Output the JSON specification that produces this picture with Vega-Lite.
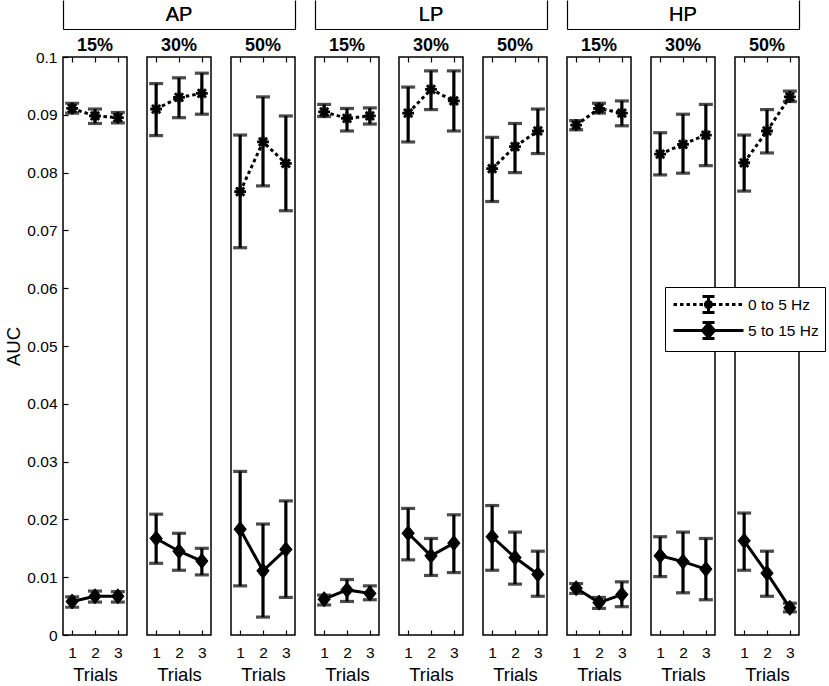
{
  "$schema": "https://vega.github.io/schema/vega-lite/v6.json",
  "padding": {"left": 4, "top": 0, "right": 5, "bottom": 2},
  "background": "white",
  "datasets": {
    "auc": [
      {"panel": "AP 15%", "trial": 1, "band": "0 to 5 Hz", "auc": 0.0911, "lo": 0.0903, "hi": 0.0920},
      {"panel": "AP 15%", "trial": 2, "band": "0 to 5 Hz", "auc": 0.0898, "lo": 0.0885, "hi": 0.0910},
      {"panel": "AP 15%", "trial": 3, "band": "0 to 5 Hz", "auc": 0.0895, "lo": 0.0886, "hi": 0.0904},
      {"panel": "AP 15%", "trial": 1, "band": "5 to 15 Hz", "auc": 0.0058, "lo": 0.0048, "hi": 0.0066},
      {"panel": "AP 15%", "trial": 2, "band": "5 to 15 Hz", "auc": 0.0067, "lo": 0.0057, "hi": 0.0076},
      {"panel": "AP 15%", "trial": 3, "band": "5 to 15 Hz", "auc": 0.0067, "lo": 0.0057, "hi": 0.0075},
      {"panel": "AP 30%", "trial": 1, "band": "0 to 5 Hz", "auc": 0.0910, "lo": 0.0864, "hi": 0.0954},
      {"panel": "AP 30%", "trial": 2, "band": "0 to 5 Hz", "auc": 0.0930, "lo": 0.0895, "hi": 0.0964},
      {"panel": "AP 30%", "trial": 3, "band": "0 to 5 Hz", "auc": 0.0937, "lo": 0.0901, "hi": 0.0972},
      {"panel": "AP 30%", "trial": 1, "band": "5 to 15 Hz", "auc": 0.0167, "lo": 0.0124, "hi": 0.0209},
      {"panel": "AP 30%", "trial": 2, "band": "5 to 15 Hz", "auc": 0.0145, "lo": 0.0112, "hi": 0.0176},
      {"panel": "AP 30%", "trial": 3, "band": "5 to 15 Hz", "auc": 0.0128, "lo": 0.0104, "hi": 0.0150},
      {"panel": "AP 50%", "trial": 1, "band": "0 to 5 Hz", "auc": 0.0767, "lo": 0.0670, "hi": 0.0865},
      {"panel": "AP 50%", "trial": 2, "band": "0 to 5 Hz", "auc": 0.0853, "lo": 0.0777, "hi": 0.0931},
      {"panel": "AP 50%", "trial": 3, "band": "0 to 5 Hz", "auc": 0.0816, "lo": 0.0734, "hi": 0.0898},
      {"panel": "AP 50%", "trial": 1, "band": "5 to 15 Hz", "auc": 0.0183, "lo": 0.0085, "hi": 0.0283},
      {"panel": "AP 50%", "trial": 2, "band": "5 to 15 Hz", "auc": 0.0111, "lo": 0.0031, "hi": 0.0192},
      {"panel": "AP 50%", "trial": 3, "band": "5 to 15 Hz", "auc": 0.0148, "lo": 0.0065, "hi": 0.0232},
      {"panel": "LP 15%", "trial": 1, "band": "0 to 5 Hz", "auc": 0.0905, "lo": 0.0897, "hi": 0.0918},
      {"panel": "LP 15%", "trial": 2, "band": "0 to 5 Hz", "auc": 0.0894, "lo": 0.0872, "hi": 0.0911},
      {"panel": "LP 15%", "trial": 3, "band": "0 to 5 Hz", "auc": 0.0898, "lo": 0.0884, "hi": 0.0912},
      {"panel": "LP 15%", "trial": 1, "band": "5 to 15 Hz", "auc": 0.0062, "lo": 0.0052, "hi": 0.0069},
      {"panel": "LP 15%", "trial": 2, "band": "5 to 15 Hz", "auc": 0.0078, "lo": 0.0058, "hi": 0.0096},
      {"panel": "LP 15%", "trial": 3, "band": "5 to 15 Hz", "auc": 0.0072, "lo": 0.0061, "hi": 0.0085},
      {"panel": "LP 30%", "trial": 1, "band": "0 to 5 Hz", "auc": 0.0903, "lo": 0.0853, "hi": 0.0948},
      {"panel": "LP 30%", "trial": 2, "band": "0 to 5 Hz", "auc": 0.0944, "lo": 0.0909, "hi": 0.0976},
      {"panel": "LP 30%", "trial": 3, "band": "0 to 5 Hz", "auc": 0.0924, "lo": 0.0872, "hi": 0.0976},
      {"panel": "LP 30%", "trial": 1, "band": "5 to 15 Hz", "auc": 0.0176, "lo": 0.0130, "hi": 0.0219},
      {"panel": "LP 30%", "trial": 2, "band": "5 to 15 Hz", "auc": 0.0137, "lo": 0.0103, "hi": 0.0167},
      {"panel": "LP 30%", "trial": 3, "band": "5 to 15 Hz", "auc": 0.0159, "lo": 0.0108, "hi": 0.0208},
      {"panel": "LP 50%", "trial": 1, "band": "0 to 5 Hz", "auc": 0.0807, "lo": 0.0750, "hi": 0.0861},
      {"panel": "LP 50%", "trial": 2, "band": "0 to 5 Hz", "auc": 0.0845, "lo": 0.0800, "hi": 0.0885},
      {"panel": "LP 50%", "trial": 3, "band": "0 to 5 Hz", "auc": 0.0872, "lo": 0.0833, "hi": 0.0910},
      {"panel": "LP 50%", "trial": 1, "band": "5 to 15 Hz", "auc": 0.0170, "lo": 0.0112, "hi": 0.0224},
      {"panel": "LP 50%", "trial": 2, "band": "5 to 15 Hz", "auc": 0.0134, "lo": 0.0088, "hi": 0.0178},
      {"panel": "LP 50%", "trial": 3, "band": "5 to 15 Hz", "auc": 0.0105, "lo": 0.0067, "hi": 0.0145},
      {"panel": "HP 15%", "trial": 1, "band": "0 to 5 Hz", "auc": 0.0882, "lo": 0.0874, "hi": 0.0890},
      {"panel": "HP 15%", "trial": 2, "band": "0 to 5 Hz", "auc": 0.0911, "lo": 0.0903, "hi": 0.0920},
      {"panel": "HP 15%", "trial": 3, "band": "0 to 5 Hz", "auc": 0.0903, "lo": 0.0881, "hi": 0.0924},
      {"panel": "HP 15%", "trial": 1, "band": "5 to 15 Hz", "auc": 0.0081, "lo": 0.0072, "hi": 0.0089},
      {"panel": "HP 15%", "trial": 2, "band": "5 to 15 Hz", "auc": 0.0056, "lo": 0.0046, "hi": 0.0065},
      {"panel": "HP 15%", "trial": 3, "band": "5 to 15 Hz", "auc": 0.0070, "lo": 0.0049, "hi": 0.0092},
      {"panel": "HP 30%", "trial": 1, "band": "0 to 5 Hz", "auc": 0.0832, "lo": 0.0796, "hi": 0.0869},
      {"panel": "HP 30%", "trial": 2, "band": "0 to 5 Hz", "auc": 0.0849, "lo": 0.0799, "hi": 0.0901},
      {"panel": "HP 30%", "trial": 3, "band": "0 to 5 Hz", "auc": 0.0865, "lo": 0.0812, "hi": 0.0918},
      {"panel": "HP 30%", "trial": 1, "band": "5 to 15 Hz", "auc": 0.0137, "lo": 0.0101, "hi": 0.0170},
      {"panel": "HP 30%", "trial": 2, "band": "5 to 15 Hz", "auc": 0.0127, "lo": 0.0073, "hi": 0.0178},
      {"panel": "HP 30%", "trial": 3, "band": "5 to 15 Hz", "auc": 0.0114, "lo": 0.0061, "hi": 0.0167},
      {"panel": "HP 50%", "trial": 1, "band": "0 to 5 Hz", "auc": 0.0817, "lo": 0.0768, "hi": 0.0865},
      {"panel": "HP 50%", "trial": 2, "band": "0 to 5 Hz", "auc": 0.0872, "lo": 0.0834, "hi": 0.0909},
      {"panel": "HP 50%", "trial": 3, "band": "0 to 5 Hz", "auc": 0.0931, "lo": 0.0923, "hi": 0.0941},
      {"panel": "HP 50%", "trial": 1, "band": "5 to 15 Hz", "auc": 0.0163, "lo": 0.0112, "hi": 0.0211},
      {"panel": "HP 50%", "trial": 2, "band": "5 to 15 Hz", "auc": 0.0107, "lo": 0.0067, "hi": 0.0145},
      {"panel": "HP 50%", "trial": 3, "band": "5 to 15 Hz", "auc": 0.0047, "lo": 0.0040, "hi": 0.0055}
    ]
  },
  "bounds": "flush",
  "spacing": 57,
  "vconcat": [
    {
      "bounds": "flush",
      "spacing": 20,
      "hconcat": [
        {
          "width": 232, "height": 29,
          "view": {"stroke": null},
          "data": {"values": [{"group": "AP"}]},
          "layer": [
            {"mark": {"type": "text", "fontSize": 20, "color": "black"},
             "encoding": {
               "text": {"field": "group"},
               "x": {"field": "group", "type": "nominal", "axis": {"orient": "bottom", "domain": true, "domainColor": "black", "domainWidth": 1.2, "ticks": false, "labels": false, "title": null}},
               "y": {"field": "group", "type": "nominal", "axis": {"orient": "left", "domain": true, "domainColor": "black", "domainWidth": 1.2, "ticks": false, "labels": false, "title": null}}}},
            {"mark": {"type": "text", "fontSize": 20, "color": "black"},
             "encoding": {
               "text": {"field": "group"},
               "x": {"field": "group", "type": "nominal", "axis": {"orient": "bottom", "domain": true, "domainColor": "black", "domainWidth": 1.2, "ticks": false, "labels": false, "title": null}},
               "y": {"field": "group", "type": "nominal", "axis": {"orient": "right", "domain": true, "domainColor": "black", "domainWidth": 1.2, "ticks": false, "labels": false, "title": null}}}}
          ],
          "resolve": {"axis": {"y": "independent"}}
        },
        {
          "width": 232, "height": 29,
          "view": {"stroke": null},
          "data": {"values": [{"group": "LP"}]},
          "layer": [
            {"mark": {"type": "text", "fontSize": 20, "color": "black"},
             "encoding": {
               "text": {"field": "group"},
               "x": {"field": "group", "type": "nominal", "axis": {"orient": "bottom", "domain": true, "domainColor": "black", "domainWidth": 1.2, "ticks": false, "labels": false, "title": null}},
               "y": {"field": "group", "type": "nominal", "axis": {"orient": "left", "domain": true, "domainColor": "black", "domainWidth": 1.2, "ticks": false, "labels": false, "title": null}}}},
            {"mark": {"type": "text", "fontSize": 20, "color": "black"},
             "encoding": {
               "text": {"field": "group"},
               "x": {"field": "group", "type": "nominal", "axis": {"orient": "bottom", "domain": true, "domainColor": "black", "domainWidth": 1.2, "ticks": false, "labels": false, "title": null}},
               "y": {"field": "group", "type": "nominal", "axis": {"orient": "right", "domain": true, "domainColor": "black", "domainWidth": 1.2, "ticks": false, "labels": false, "title": null}}}}
          ],
          "resolve": {"axis": {"y": "independent"}}
        },
        {
          "width": 232, "height": 29,
          "view": {"stroke": null},
          "data": {"values": [{"group": "HP"}]},
          "layer": [
            {"mark": {"type": "text", "fontSize": 20, "color": "black"},
             "encoding": {
               "text": {"field": "group"},
               "x": {"field": "group", "type": "nominal", "axis": {"orient": "bottom", "domain": true, "domainColor": "black", "domainWidth": 1.2, "ticks": false, "labels": false, "title": null}},
               "y": {"field": "group", "type": "nominal", "axis": {"orient": "left", "domain": true, "domainColor": "black", "domainWidth": 1.2, "ticks": false, "labels": false, "title": null}}}},
            {"mark": {"type": "text", "fontSize": 20, "color": "black"},
             "encoding": {
               "text": {"field": "group"},
               "x": {"field": "group", "type": "nominal", "axis": {"orient": "bottom", "domain": true, "domainColor": "black", "domainWidth": 1.2, "ticks": false, "labels": false, "title": null}},
               "y": {"field": "group", "type": "nominal", "axis": {"orient": "right", "domain": true, "domainColor": "black", "domainWidth": 1.2, "ticks": false, "labels": false, "title": null}}}}
          ],
          "resolve": {"axis": {"y": "independent"}}
        }
      ]
    },
    {
      "data": {"name": "auc"},
      "bounds": "flush",
      "spacing": 20,
      "facet": {
        "column": {
          "field": "panel", "type": "nominal",
          "sort": ["AP 15%", "AP 30%", "AP 50%", "LP 15%", "LP 30%", "LP 50%", "HP 15%", "HP 30%", "HP 50%"],
          "header": {"title": null, "labelExpr": "split(datum.value, ' ')[1]", "labelFontSize": 18, "labelFontWeight": "bold", "labelColor": "black", "labelPadding": 1}
        }
      },
      "spec": {
        "width": 64,
        "height": 578,
        "layer": [
          {
            "transform": [{"filter": "datum.band === '0 to 5 Hz'"}],
            "mark": {"type": "line", "color": "black", "strokeWidth": 3, "strokeDash": [3.5, 3]},
            "encoding": {
              "x": {"field": "trial", "type": "quantitative", "scale": {"domain": [0.6, 3.4], "nice": false, "zero": false},
                    "axis": {"orient": "bottom", "values": [1, 2, 3], "tickSize": -5, "labelPadding": 15, "title": "Trials", "titlePadding": 5}},
              "y": {"field": "auc", "type": "quantitative", "scale": {"domain": [0, 0.1], "nice": false},
                    "axis": {"values": [0, 0.01, 0.02, 0.03, 0.04, 0.05, 0.06, 0.07, 0.08, 0.09, 0.1], "format": "~g", "tickSize": -5, "labelPadding": 11, "title": "AUC", "titlePadding": 3}}
            }
          },
          {
            "transform": [{"filter": "datum.band === '5 to 15 Hz'"}],
            "mark": {"type": "line", "color": "black", "strokeWidth": 3},
            "encoding": {
              "x": {"field": "trial", "type": "quantitative", "axis": null},
              "y": {"field": "auc", "type": "quantitative", "title": "AUC"}
            }
          },
          {
            "mark": {"type": "errorbar", "ticks": {"size": 14, "thickness": 3.2}, "rule": {"strokeWidth": 3.2}, "color": "black"},
            "encoding": {
              "x": {"field": "trial", "type": "quantitative",
                    "axis": {"orient": "top", "values": [1, 2, 3], "tickSize": -5, "labels": false, "title": null}},
              "y": {"field": "lo", "type": "quantitative", "title": "AUC"},
              "y2": {"field": "hi"}
            }
          },
          {
            "transform": [{"filter": "datum.band === '0 to 5 Hz'"}],
            "mark": {"type": "point", "filled": true, "opacity": 1, "color": "black", "stroke": "black", "strokeWidth": 2.8, "size": 140,
                     "shape": "M-1,0H1M0,-1V1M-0.7,-0.7L0.7,0.7M-0.7,0.7L0.7,-0.7"},
            "encoding": {
              "x": {"field": "trial", "type": "quantitative", "axis": null},
              "y": {"field": "auc", "type": "quantitative", "title": "AUC"}
            }
          },
          {
            "transform": [{"filter": "datum.band === '5 to 15 Hz'"}],
            "mark": {"type": "point", "filled": true, "opacity": 1, "color": "black", "stroke": "black", "strokeWidth": 1, "size": 115,
                     "shape": "M0,-1.4L1.15,0L0,1.4L-1.15,0Z"},
            "encoding": {
              "x": {"field": "trial", "type": "quantitative", "axis": null},
              "y": {"field": "auc", "type": "quantitative", "title": "AUC"}
            }
          },
          {
            "transform": [{"filter": "false"}],
            "mark": {"type": "point", "filled": true, "opacity": 1, "color": "black", "stroke": "black", "strokeWidth": 3},
            "encoding": {
              "shape": {
                "field": "band", "type": "nominal",
                "scale": {
                  "domain": ["0 to 5 Hz", "5 to 15 Hz"],
                  "range": [
                    "M-3.5,0h0.35m0.3,0h0.35m0.3,0h0.35m0.3,0h0.35m0.3,0h0.35m0.3,0h0.35m0.3,0h0.35m0.3,0h0.35m0.3,0h0.35m0.3,0h0.35m0.3,0h0.35M0,-0.8V0.8M-0.6,-0.8H0.6M-0.6,0.8H0.6M-0.45,0H0.45M0,-0.45V0.45M-0.32,-0.32L0.32,0.32M-0.32,0.32L0.32,-0.32",
                    "M-3.5,0H3.5M0,-0.8V0.8M-0.6,-0.8H0.6M-0.6,0.8H0.6M0,-0.7L0.6,0L0,0.7L-0.6,0Z"
                  ]
                },
                "legend": {
                  "orient": "none", "legendX": 602, "legendY": 287, "title": null,
                  "strokeColor": "black", "fillColor": "white", "padding": 6,
                  "symbolSize": 400, "symbolOffset": 26, "labelOffset": 28, "rowPadding": -8,
                  "symbolStrokeWidth": 3,
                  "labelFontSize": 15.5, "labelColor": "black", "labelLimit": 200,
                  "encode": {
                    "symbols": {
                      "enter": {"strokeWidth": {"value": 3}},
                      "update": {"stroke": {"value": "black"}, "strokeWidth": {"value": 3}, "fill": {"value": "black"}, "opacity": {"value": 1}}
                    }
                  }
                }
              }
            }
          }
        ],
        "resolve": {"axis": {"x": "independent"}}
      }
    }
  ],
  "config": {
    "font": "Liberation Sans",
    "view": {"stroke": "black", "strokeWidth": 1.5},
    "axis": {
      "grid": false, "domain": false, "tickColor": "black", "tickWidth": 1.2,
      "labelFontSize": 15.5, "labelColor": "black", "labelAngle": 0,
      "titleFontSize": 18.5, "titleFontWeight": "normal", "titleColor": "black"
    }
  }
}
